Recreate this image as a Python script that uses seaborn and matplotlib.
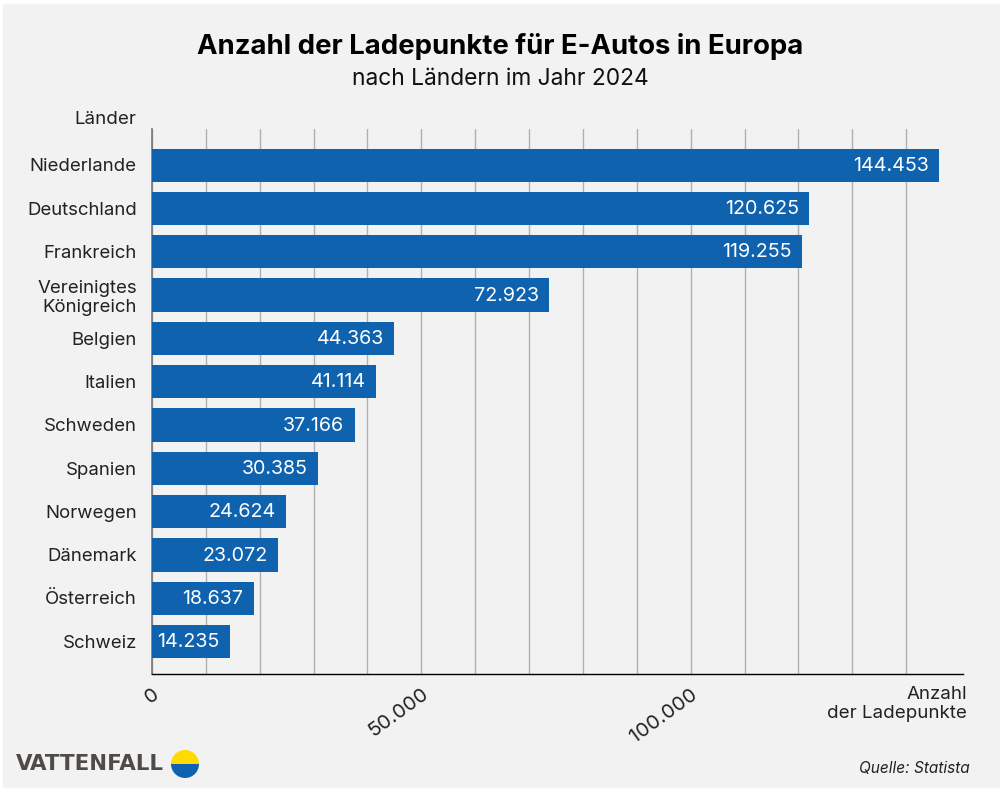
import pandas as pd
import matplotlib
matplotlib.use("Agg")
import matplotlib.pyplot as plt
from matplotlib.patches import Rectangle, Wedge
from matplotlib.transforms import ScaledTranslation
import seaborn as sns

# Daten
laender = ["Niederlande", "Deutschland", "Frankreich", "Vereinigtes\nKönigreich", "Belgien", "Italien",
           "Schweden", "Spanien", "Norwegen", "Dänemark", "Österreich", "Schweiz"]
ladepunkte = [144453, 120625, 119255, 72923, 44363, 41114, 37166, 30385, 24624, 23072, 18637, 14235]
wert_labels = ["144.453", "120.625", "119.255", "72.923", "44.363", "41.114",
               "37.166", "30.385", "24.624", "23.072", "18.637", "14.235"]
tick_nummern = list(range(15))
tick_texte = {0: "0", 5: "50.000", 10: "100.000"}

# im Original passen Gitter und Balken nicht ganz zusammen, ein Gitterschritt liegt bei ca. 9.885
GITTER_SCHRITT = 9885

BLAU = "#0F62AE"
GRAU_BG = "#F2F2F2"

sns.set_theme(style="white")
plt.rcParams["font.family"] = ["Inter", "DejaVu Sans"]

df = pd.DataFrame({"Land": laender, "Anzahl": ladepunkte})

fig = plt.figure(figsize=(10, 7.89), dpi=100, facecolor="white")
fig.add_artist(Rectangle((0.003, 0.002), 0.997, 0.993, transform=fig.transFigure, color=GRAU_BG, zorder=-5))

ax = fig.add_axes([0.152, 1 - 674 / 789, 0.8107, (674 - 129) / 789])
ax.set_facecolor("none")
ax.set_axisbelow(True)

sns.barplot(data=df, x="Anzahl", y="Land", color=BLAU, width=0.77, saturation=1, ax=ax, zorder=3,
            edgecolor="none", linewidth=0)

ax.set_xlim(0, 148750)
ax.set_ylim(11.75, -0.836)
ax.set_xlabel("")
ax.set_ylabel("")

ax.set_xticks([n * GITTER_SCHRITT for n in tick_nummern])
ax.set_xticklabels([tick_texte.get(n, "") for n in tick_nummern], rotation=36, ha="right",
                   rotation_mode="anchor", fontsize=14.6, color="#222222")
ax.tick_params(axis="x", length=0, pad=8)
ax.tick_params(axis="y", length=0, pad=11, labelsize=13.4, labelcolor="#222222")
verschiebung = ScaledTranslation(0, 0.3 / 100, fig.dpi_scale_trans)
for lab in ax.get_yticklabels():
    lab.set_ha("right")
    lab.set_linespacing(1.2)
    lab.set_transform(lab.get_transform() + verschiebung)

ax.grid(axis="x", color="#B0B0B0", linewidth=1.0)
ax.grid(axis="y", visible=False)

for spine in ["top", "right"]:
    ax.spines[spine].set_visible(False)
ax.spines["left"].set_color("#777777")
ax.spines["left"].set_linewidth(1.2)
ax.spines["bottom"].set_color("black")
ax.spines["bottom"].set_linewidth(1.0)

for wert, text, bar in zip(ladepunkte, wert_labels, ax.containers[0]):
    ax.annotate(text, xy=(wert, bar.get_y() + bar.get_height() / 2), xytext=(-7.3, -0.5),
                textcoords="offset points", ha="right", va="center", color="white", fontsize=14.2, zorder=4)

# Titel und Beschriftungen
fig.text(0.5, 1 - 46.5 / 789, "Anzahl der Ladepunkte für E-Autos in Europa", ha="center", va="center",
         fontsize=19.8, fontweight="bold", color="black")
fig.text(0.5, 1 - 79 / 789, "nach Ländern im Jahr 2024", ha="center", va="center", fontsize=16.4, color="#111111")
fig.text(0.136, 1 - 119 / 789, "Länder", ha="right", va="center", fontsize=13.5, color="#222222")
fig.text(0.967, 1 - 704 / 789, "Anzahl\nder Ladepunkte", ha="right", va="center", fontsize=13.5, color="#222222",
         linespacing=1.15)
fig.text(0.970, 1 - 768 / 789, "Quelle: Statista", ha="right", va="center", fontsize=11.1, style="italic",
         color="#222222")

# Logo
fig.text(0.016, 1 - 764 / 789, "VATTENFALL", ha="left", va="center", fontsize=15.4, fontweight="bold",
         color="#4E4B48", family="DejaVu Sans")
logo = fig.add_axes([0.171, 1 - 778 / 789, 0.028, 0.028 * 1000 / 789])
logo.set_xlim(-1, 1)
logo.set_ylim(-1, 1)
logo.axis("off")
logo.add_patch(Wedge((0, 0), 1, 0, 180, color="#FFDA00", lw=0))
logo.add_patch(Wedge((0, 0), 1, 180, 360, color=BLAU, lw=0))

fig.savefig("out.png", dpi=100)
